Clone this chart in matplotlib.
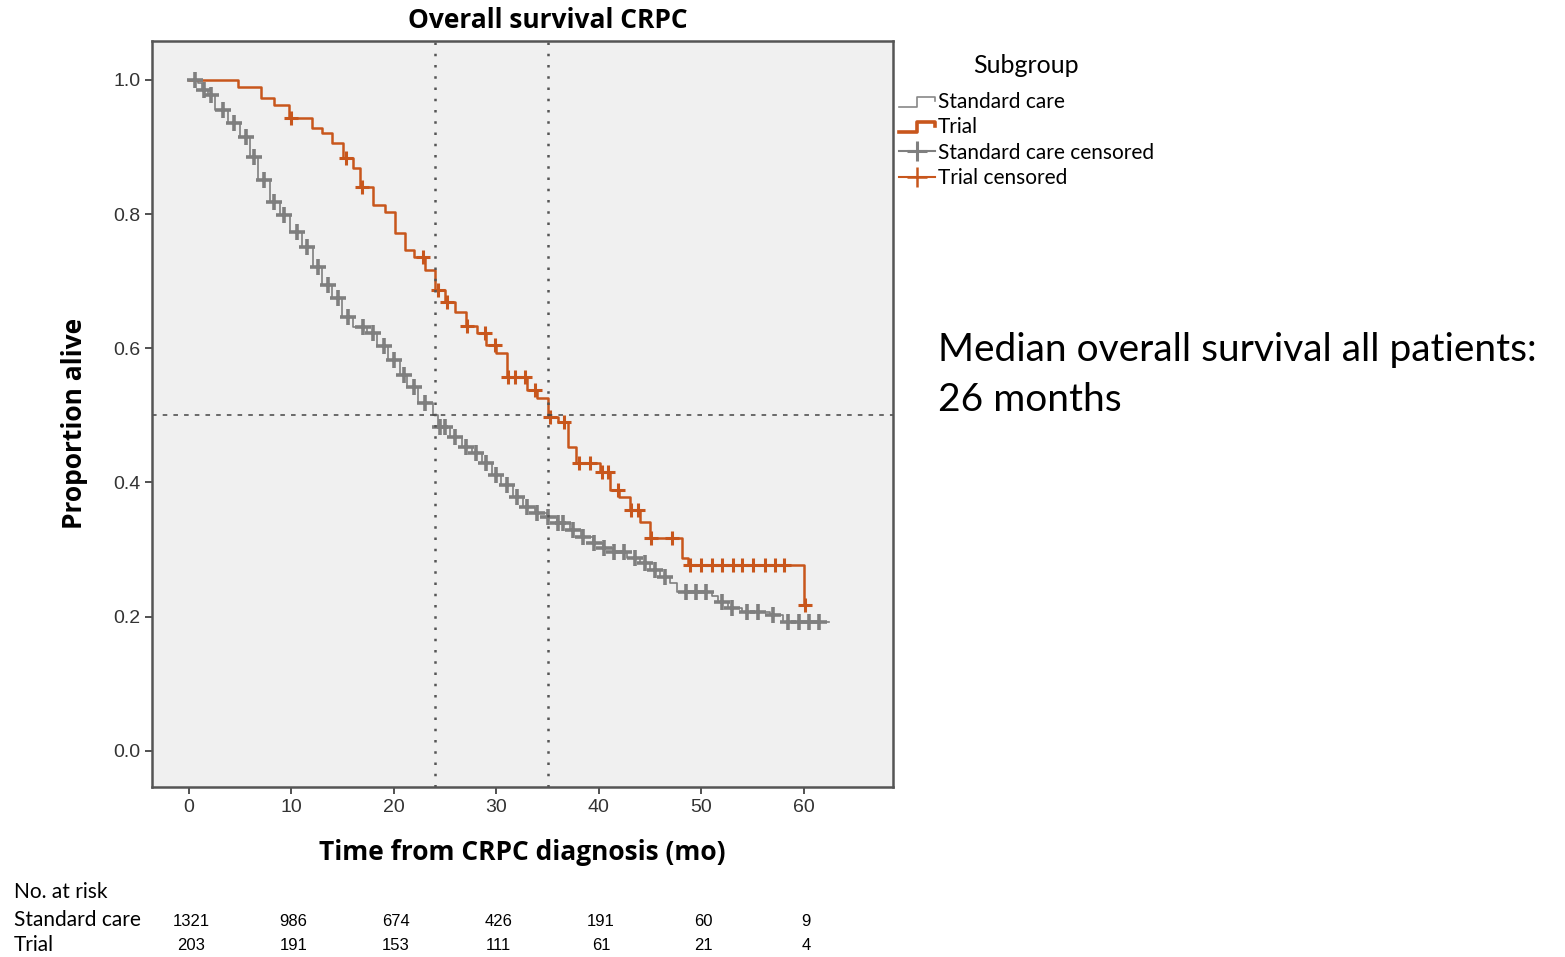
import numpy as np
import matplotlib
matplotlib.use("Agg")
import matplotlib.pyplot as plt
from matplotlib.lines import Line2D
from matplotlib.legend_handler import HandlerBase

# step curves (time in months, proportion alive after the step)
std_t = [0, 0.9, 1.3, 1.9, 2.5, 3.8, 5, 6, 6.7, 7.9, 8.9, 9.9, 11, 12.1, 13, 14, 14.9, 16,
         17.4, 18.4, 19.4, 20.6, 21.3, 22.4, 23.8, 24.3, 25.5, 26.6, 27.6, 28.6, 29.6, 30.5,
         31.6, 32.6, 33.8, 34.9, 35.9, 37.2, 38.3, 39.4, 40.4, 41.4, 42.7, 44, 45, 46, 46.9,
         47.6, 51, 51.6, 52.6, 54, 56.7, 58, 62.5]
std_s = [1.0, 0.995, 0.985, 0.978, 0.955, 0.936, 0.915, 0.885, 0.851, 0.818, 0.799, 0.773,
         0.751, 0.721, 0.694, 0.675, 0.647, 0.632, 0.623, 0.603, 0.582, 0.560, 0.542, 0.519,
         0.501, 0.483, 0.468, 0.453, 0.444, 0.429, 0.411, 0.396, 0.379, 0.364, 0.355, 0.349,
         0.340, 0.329, 0.319, 0.310, 0.302, 0.297, 0.288, 0.280, 0.270, 0.259, 0.250, 0.237,
         0.230, 0.222, 0.213, 0.207, 0.203, 0.192, 0.192]
std_cens = [0.6, 1.5, 2.2, 3.3, 4.4, 5.6, 6.4, 7.3, 8.3, 9.3, 10.5, 11.5, 12.6, 13.6, 14.5,
            15.5, 17, 18, 19, 20, 21, 22, 23, 24.5, 25, 26, 27, 28, 29, 30, 31, 32, 33, 34,
            35, 36, 36.5, 37.5, 38.5, 39.5, 40.5, 41.5, 42.5, 43.5, 44.5, 45.5, 46.5, 48.5,
            49.5, 50.5, 52, 53, 54.5, 55.5, 57, 58.5, 59.5, 60.5, 61.5]

trial_t = [0, 4.8, 7, 8.3, 9.8, 12, 13, 14, 15, 16, 16.7, 18, 19.1, 20.1, 21.1, 22, 23, 24,
           25, 26, 27, 28.1, 29, 30, 31, 33, 34, 35, 36, 37, 37.8, 40.1, 41.1, 42, 43, 44,
           45, 48.1, 48.7, 60]
trial_s = [1.0, 0.99, 0.973, 0.963, 0.943, 0.928, 0.921, 0.906, 0.884, 0.869, 0.84, 0.814,
           0.803, 0.772, 0.747, 0.736, 0.717, 0.687, 0.669, 0.654, 0.633, 0.623, 0.605,
           0.593, 0.557, 0.538, 0.526, 0.498, 0.490, 0.453, 0.429, 0.416, 0.389, 0.379,
           0.359, 0.341, 0.317, 0.288, 0.277, 0.218]
trial_cens = [10.0, 15.3, 16.9, 22.8, 24.3, 25.2, 27.1, 28.9, 29.9, 31.1, 31.8, 32.8, 33.8,
              35.2, 36.6, 38.1, 39.1, 40.3, 40.9, 41.9, 43.1, 43.8, 45.1, 47.1, 48.9, 50,
              51, 52, 53.1, 54, 55, 56.2, 57.2, 58.1, 60.1]

risk_times = [0, 10, 20, 30, 40, 50, 60]
risk_std = [1321, 986, 674, 426, 191, 60, 9]
risk_trial = [203, 191, 153, 111, 61, 21, 4]

median_lines = [24, 35]

GRAY = "#7f7f7f"
ORANGE = "#c8561c"


def surv_at(t, times, surv):
    i = np.searchsorted(times, t, side="right") - 1
    return np.asarray(surv)[i]


class StepHandler(HandlerBase):
    def __init__(self, color, lw):
        super().__init__()
        self.color = color
        self.lw = lw

    def create_artists(self, legend, orig_handle, xdescent, ydescent, width, height, fontsize, trans):
        xs = [0, width * 0.5, width * 0.5, width, width]
        ys = [height * 0.1, height * 0.1, height * 0.8, height * 0.8, height * 0.5]
        return [Line2D(xs, ys, color=self.color, lw=self.lw, transform=trans)]


fig = plt.figure(figsize=(15.65, 9.57), dpi=100)
ax = fig.add_axes([152 / 1565, 1 - 787 / 957, (893 - 152) / 1565, (787 - 41) / 957])
ax.set_facecolor("#f0f0f0")

ax.step(std_t, std_s, where="post", color=GRAY, lw=1.2)
ax.step(trial_t, trial_s, where="post", color=ORANGE, lw=1.8)
ax.plot(std_cens, surv_at(std_cens, std_t, std_s), ls="none", marker="+",
        ms=11, mew=2.6, color=GRAY)
ax.plot(trial_cens, surv_at(trial_cens, trial_t, trial_s), ls="none", marker="+",
        ms=10, mew=2.2, color=ORANGE)

for m in median_lines:
    ax.axvline(m, color="#555555", lw=1.8, ls=(0, (1, 3.5)))
ax.axhline(0.5, color="#444444", lw=1.1, ls=(0, (3, 4)))

ax.set_xlim(-3.6, 68.7)
ax.set_ylim(-0.054, 1.058)
ax.set_xticks(risk_times)
ax.set_yticks([0.0, 0.2, 0.4, 0.6, 0.8, 1.0])
ax.set_yticklabels(["0.0", "0.2", "0.4", "0.6", "0.8", "1.0"])
ax.tick_params(axis="both", direction="out", length=5, width=1.2, color="#333333",
               labelsize=14, labelcolor="#333333")
for lab in ax.get_xticklabels() + ax.get_yticklabels():
    lab.set_family("Liberation Sans")
for sp in ax.spines.values():
    sp.set_color("#555555")
    sp.set_linewidth(1.8)

fig.text(548 / 1565, 1 - 20 / 957, "Overall survival CRPC", ha="center", va="center",
         fontsize=19, fontweight="bold", family="Open Sans")
fig.text(522 / 1565, 1 - 853 / 957, "Time from CRPC diagnosis (mo)", ha="center",
         va="center", fontsize=19, fontweight="bold", family="Open Sans")
fig.text(75 / 1565, 1 - 423 / 957, "Proportion alive", ha="center", va="center",
         rotation=90, fontsize=19, fontweight="bold", family="Open Sans")

handles = [Line2D([], []), Line2D([], []),
           Line2D([0], [0], color=GRAY, lw=1.5, marker="+", ms=15, mew=2.2),
           Line2D([0], [0], color=ORANGE, lw=1.5, marker="+", ms=14, mew=1.8)]
labels = ["Standard care", "Trial", "Standard care censored", "Trial censored"]
leg = fig.legend(handles, labels, title="Subgroup", loc="upper left",
                 bbox_to_anchor=(899 / 1565, 1 - 54 / 957), frameon=False,
                 handler_map={handles[0]: StepHandler("#888888", 1.2),
                              handles[1]: StepHandler(ORANGE, 2.6)},
                 prop={"family": "Lato", "size": 15}, handlelength=1.75,
                 handletextpad=0.1, labelspacing=0.25, borderaxespad=0, borderpad=0)
leg.get_title().set_fontsize(18)
leg.get_title().set_family("Lato")
leg._legend_box.sep = 11

fig.text(938 / 1565, 1 - 350 / 957, "Median overall survival all patients:",
         ha="left", va="center", fontsize=28, family="Lato")
fig.text(938 / 1565, 1 - 400 / 957, "26 months", ha="left", va="center",
         fontsize=28, family="Lato")

# number at risk table
fig.text(14 / 1565, 1 - 892 / 957, "No. at risk", ha="left", va="center",
         fontsize=15, family="Lato")
fig.text(14 / 1565, 1 - 920 / 957, "Standard care", ha="left", va="center",
         fontsize=15, family="Lato")
fig.text(14 / 1565, 1 - 945 / 957, "Trial", ha="left", va="center",
         fontsize=15, family="Lato")
trans = ax.get_xaxis_transform()
pos = ax.get_position()
for t, a, b in zip(risk_times, risk_std, risk_trial):
    ax.text(t + 0.2, (1 - 922 / 957 - pos.y0) / pos.height, str(a), transform=trans,
            ha="center", va="center", fontsize=12, family="Liberation Sans", clip_on=False)
    ax.text(t + 0.2, (1 - 946 / 957 - pos.y0) / pos.height, str(b), transform=trans,
            ha="center", va="center", fontsize=12, family="Liberation Sans", clip_on=False)

fig.savefig("out.png", dpi=100)
